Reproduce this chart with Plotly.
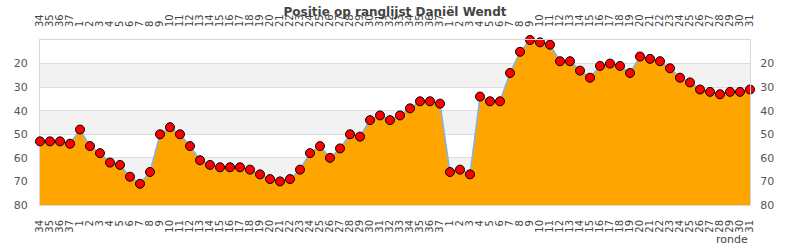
import plotly.graph_objects as go

rounds = ["34", "35", "36", "37"] + [str(i) for i in range(1, 38)] + [str(i) for i in range(1, 32)]
positions = [53, 53, 53, 54, 48, 55, 58, 62, 63, 68, 71, 66, 50, 47, 50, 55, 61, 63, 64, 64,
             64, 65, 67, 69, 70, 69, 65, 58, 55, 60, 56, 50, 51, 44, 42, 44, 42, 39, 36, 36,
             37, 66, 65, 67, 34, 36, 36, 24, 15, 10, 11, 12, 19, 19, 23, 26, 21, 20, 21, 24,
             17, 18, 19, 22, 26, 28, 31, 32, 33, 32, 32, 31]
baseline = [80] * len(rounds)
y_ticks = [20, 30, 40, 50, 60, 70, 80]
bands = [(20, 30), (40, 50), (60, 70)]

x_idx = list(range(len(rounds)))
tick_font = dict(family="DejaVu Sans", size=10, color="#444")
y_font = dict(family="DejaVu Sans", size=11, color="#555")

fig = go.Figure()
fig.add_trace(go.Scatter(x=x_idx, y=baseline, mode="lines", line=dict(width=0),
                         hoverinfo="skip", showlegend=False))
fig.add_trace(go.Scatter(x=x_idx, y=positions, mode="lines+markers", fill="tonexty",
                         fillcolor="#FFA500",
                         line=dict(color="#7CB5EC", width=1.5),
                         marker=dict(symbol="circle", size=9, color="#FF0000",
                                     line=dict(color="#000000", width=1)),
                         cliponaxis=False, showlegend=False))
# invisible trace for secondary axes
fig.add_trace(go.Scatter(x=x_idx, y=positions, xaxis="x2", yaxis="y2", mode="lines",
                         line=dict(width=0), hoverinfo="skip", showlegend=False))

for lo, hi in bands:
    fig.add_shape(type="rect", xref="paper", yref="y", x0=0, x1=1, y0=lo, y1=hi,
                  fillcolor="#F2F2F2", line=dict(width=0), layer="below")

xr = [0, len(rounds) - 1]
fig.update_layout(
    width=790, height=250,
    margin=dict(l=40, r=40, t=40, b=45),
    paper_bgcolor="white", plot_bgcolor="white",
    title=dict(text="<b>Positie op ranglijst Daniël Wendt</b>", x=0.5, xanchor="center",
               y=0.952, yanchor="middle",
               font=dict(family="DejaVu Sans", size=12, color="#444")),
    xaxis=dict(range=xr, tickmode="array", tickvals=x_idx, ticktext=rounds,
               tickangle=-90, tickfont=tick_font, showgrid=False, zeroline=False,
               showline=True, linecolor="#D8D8D8", linewidth=1, ticks="",
               ticklabelstandoff=10),
    xaxis2=dict(range=xr, tickmode="array", tickvals=x_idx, ticktext=rounds,
                tickangle=-90, tickfont=tick_font, overlaying="x", side="top",
                showgrid=False, zeroline=False, showline=True, linecolor="#D8D8D8",
                ticks="", ticklabelstandoff=10),
    yaxis=dict(range=[80, 10], tickmode="array", tickvals=y_ticks, tickfont=y_font,
               showgrid=True, gridcolor="#DDDDDD", gridwidth=1, zeroline=False,
               showline=True, linecolor="#D8D8D8", ticks="", ticklabelstandoff=9,
               layer="below traces"),
    yaxis2=dict(range=[80, 10], tickmode="array", tickvals=y_ticks, tickfont=y_font,
                overlaying="y", side="right", showgrid=False, zeroline=False,
                showline=True, linecolor="#D8D8D8", ticks="", ticklabelstandoff=7),
    annotations=[dict(text="ronde", xref="paper", yref="paper", x=1, y=-0.155,
                      xanchor="right", yanchor="top", showarrow=False,
                      font=dict(family="DejaVu Sans", size=11, color="#444"))],
)

fig.write_html("out.html")
